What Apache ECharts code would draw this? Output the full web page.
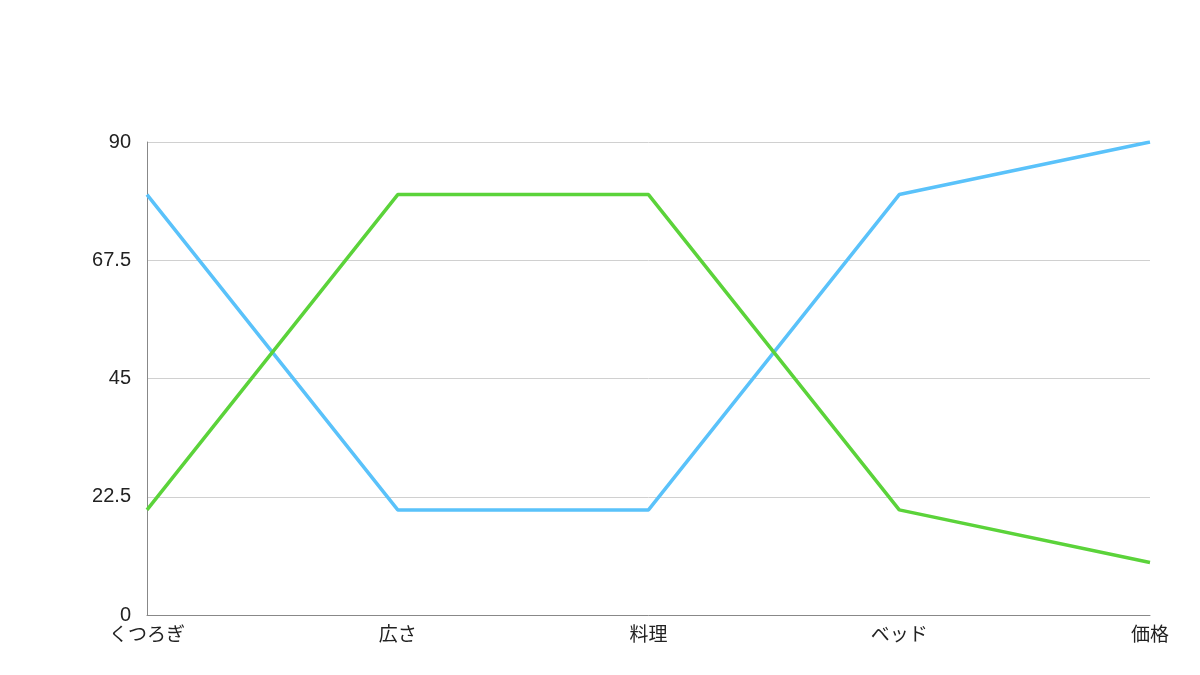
<!DOCTYPE html>
<html>
<head>
<meta charset="utf-8">
<script src="https://cdn.jsdelivr.net/npm/echarts@6/dist/echarts.min.js"></script>
<style>html,body{margin:0;padding:0;background:#fff}#c{width:1200px;height:675px}</style>
</head>
<body>
<div id="c"></div>
<script>
const categories = ["くつろぎ", "広さ", "料理", "ベッド", "価格"];
const blueValues = [80, 20, 20, 80, 90];
const greenValues = [20, 80, 80, 20, 10];
const yTicks = [0, 22.5, 45, 67.5, 90];

const chart = echarts.init(document.getElementById('c'));
const font = '"Noto Sans CJK JP", "Noto Sans", sans-serif';
chart.setOption({
  animation: false,
  grid: { left: 147, right: 50, top: 142, bottom: 60 },
  xAxis: {
    type: 'category',
    data: categories,
    boundaryGap: false,
    axisLine: { lineStyle: { color: '#888', width: 1 } },
    axisTick: { show: false },
    axisLabel: { color: '#222', fontSize: 19, fontFamily: font, margin: 9 }
  },
  yAxis: {
    type: 'value',
    min: 0, max: 90, interval: 22.5,
    axisLine: { show: true, lineStyle: { color: '#888', width: 1 } },
    axisTick: { show: false },
    splitLine: { lineStyle: { color: '#d0d0d0', width: 1 } },
    axisLabel: { color: '#222', fontSize: 20, fontFamily: '"Liberation Sans", Arial, sans-serif', margin: 16,
      padding: [12, 0, 0, 0],
      formatter: v => yTicks.includes(v) ? String(v) : '' }
  },
  series: [
    { type: 'line', data: blueValues, symbol: 'none', lineStyle: { color: '#5AC2FA', width: 3.5 } },
    { type: 'line', data: greenValues, symbol: 'none', lineStyle: { color: '#5BD33A', width: 3.5 } }
  ]
});
</script>
</body>
</html>
